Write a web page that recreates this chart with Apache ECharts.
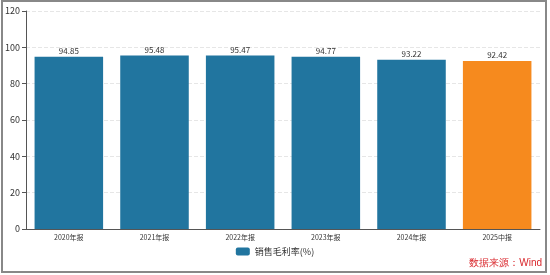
<!DOCTYPE html>
<html><head><meta charset="utf-8">
<script src="https://cdn.jsdelivr.net/npm/echarts@6/dist/echarts.min.js"></script>
<style>html,body{margin:0;padding:0;background:#fff}#c{width:550px;height:275px}
#frame{position:absolute;left:1px;top:0px;width:546px;height:273px;border:2px solid #888;box-sizing:border-box;pointer-events:none}</style>
</head><body><div id="c"></div><div id="frame"></div>
<script>
var categories = ['2020年报','2021年报','2022年报','2023年报','2024年报','2025中报'];
var grossMargin = [94.85, 95.48, 95.47, 94.77, 93.22, 92.42];
var seriesName = '销售毛利率(%)';
var yTicks = [0, 20, 40, 60, 80, 100, 120];
var chart = echarts.init(document.getElementById('c'));
chart.setOption({
  animation:false,
  textStyle:{fontFamily:'"Noto Sans CJK SC","Noto Sans",sans-serif'},
  grid:{left:26,right:10,top:11,bottom:46,containLabel:false},
  xAxis:{type:'category',data:categories,
    axisLine:{lineStyle:{color:'#555'}},
    axisTick:{alignWithLabel:true,length:4,lineStyle:{color:'#555'}},
    axisLabel:{fontSize:7,color:'#333',margin:5}},
  yAxis:{type:'value',min:yTicks[0],max:yTicks[yTicks.length-1],interval:20,
    axisLine:{show:true,lineStyle:{color:'#555'}},
    axisTick:{show:true,length:4,lineStyle:{color:'#555'}},
    axisLabel:{fontSize:9,color:'#333',margin:6},
    splitLine:{lineStyle:{color:'#e6e6e6',type:'dashed'}}},
  legend:{data:[seriesName],bottom:14,left:'center',itemWidth:14,itemHeight:8,
    icon:'roundRect',textStyle:{fontSize:9,color:'#333'}},
  series:[{name:seriesName,type:'bar',barCategoryGap:'20%',
    data:grossMargin.map(function(v,i){return i===grossMargin.length-1?{value:v,itemStyle:{color:'#F68A1E'}}:v;}),
    itemStyle:{color:'#21759F'},
    label:{show:true,position:'top',fontSize:8,color:'#333',distance:2,formatter:function(p){return p.value.toFixed(2);}}}],
  graphic:[{type:'text',right:8,bottom:7,style:{text:'数据来源：Wind',fontSize:10,fill:'#D9262B',font:'10px "Noto Sans CJK SC"'}}]
});
</script></body></html>
